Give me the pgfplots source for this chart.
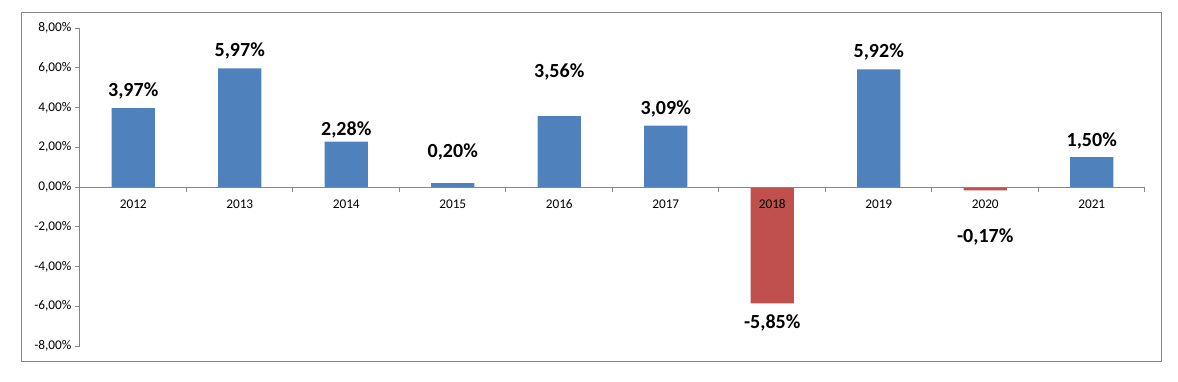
\documentclass[border=0pt]{standalone}
\usepackage{fontspec}
\setmainfont{Carlito}
\usepackage{pgfplots}
\pgfplotsset{compat=1.18}
\definecolor{barblue}{HTML}{4F81BD}
\definecolor{barred}{HTML}{C0504D}
\definecolor{axgray}{HTML}{868686}
\begin{document}
\begin{tikzpicture}[x=1pt,y=1pt]
\useasboundingbox (0,0) rectangle (1178,-382);
\draw[axgray, line width=1pt] (21,-13) rectangle (1161,-361);
\begin{axis}[
  at={(80pt,-346pt)}, anchor=south west,
  scale only axis, width=1065pt, height=318pt,
  xmin=0.5, xmax=10.5, ymin=-8, ymax=8,
  axis on top,
  axis x line*=middle, axis y line*=left,
  hide obscured x ticks=false, hide obscured y ticks=false,
  axis line style={axgray, line width=1pt},
  xtick={1,...,10},
  xticklabels={2012,2013,2014,2015,2016,2017,2018,2019,2020,2021},
  major x tick style={draw=none},
  minor xtick={0.5,1.5,...,10.5},
  minor tick length=5pt,
  major tick length=5pt,
  ytick={-8,-6,...,8},
  tick align=outside,
  tick style={axgray, line width=1pt},
  xticklabel style={font=\fontsize{13.3}{15}\selectfont, text=black, yshift=-4pt},
  yticklabel style={font=\fontsize{13.3}{15}\selectfont, text=black},
  yticklabel={\pgfmathprintnumber[fixed,fixed zerofill,precision=2,use comma,assume math mode=true]{\tick}\%},
  clip=false,
]
\addplot[ybar, bar width=43pt, bar shift=0pt, fill=barblue, draw=none]
  coordinates {(1,3.97) (2,5.97) (3,2.28) (4,0.20) (5,3.56) (6,3.09) (8,5.92) (10,1.50)};
\addplot[ybar, bar width=43pt, bar shift=0pt, fill=barred, draw=none]
  coordinates {(7,-5.85) (9,-0.17)};
\addplot[draw=none, mark=none, point meta=explicit,
  nodes near coords={\pgfmathprintnumber[fixed,fixed zerofill,precision=2,use comma,assume math mode=true]{\pgfplotspointmeta}\%},
  every node near coord/.append style={anchor=center, inner sep=0pt, font=\fontsize{20}{24}\selectfont\bfseries, text=black}]
  table[meta=v] {
x y v
1 4.82 3.97
2 6.83 5.97
3 2.86 2.28
4 1.76 0.20
5 5.78 3.56
6 3.92 3.09
7 -6.83 -5.85
8 6.78 5.92
9 -2.51 -0.17
10 2.31 1.50
};
\end{axis}
\end{tikzpicture}
\end{document}
